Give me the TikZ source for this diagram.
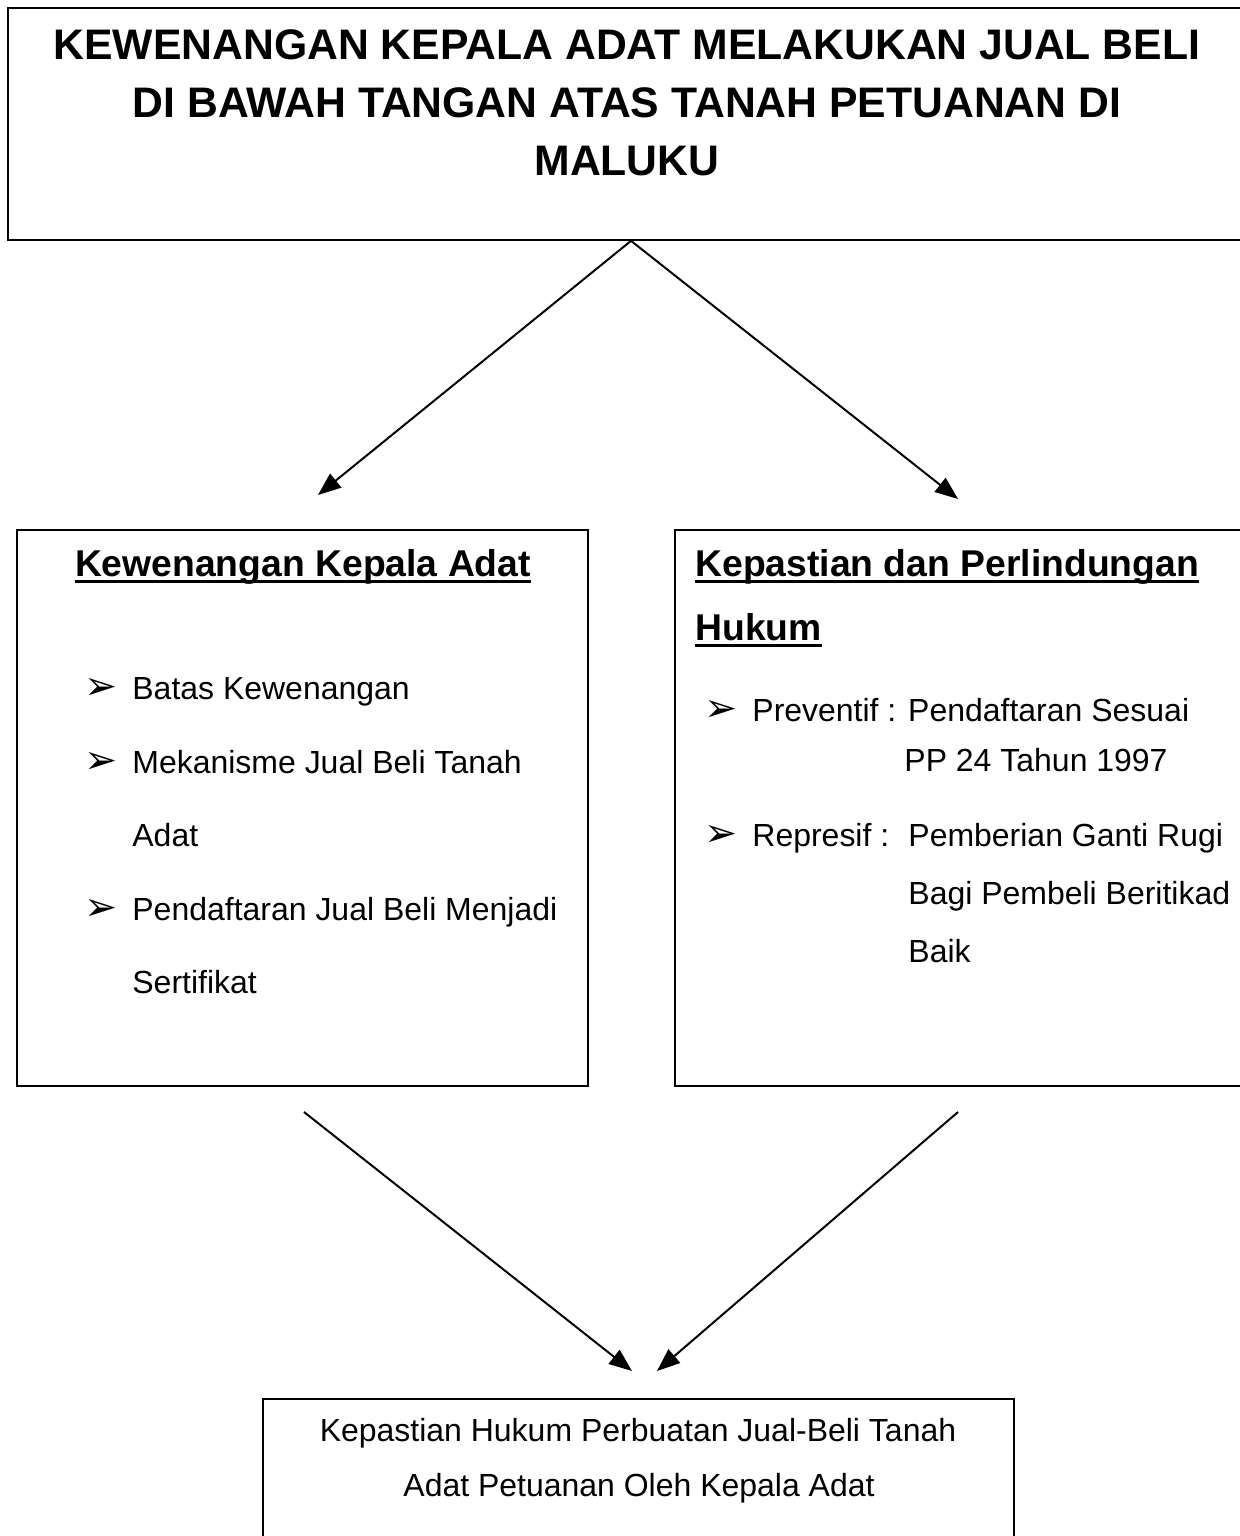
\documentclass[tikz,border=0pt]{standalone}
\usepackage{fontspec}
\setmainfont{Liberation Sans}
\newfontfamily\symfont{DejaVu Sans}
\usetikzlibrary{arrows.meta,fit}
\begin{document}
\begin{tikzpicture}[x=0.48pt,y=-0.48pt,
  frame/.style={draw=black,line width=0.8pt,inner sep=0pt,fill=none},
  titletxt/.style={anchor=base,inner sep=0pt,font=\fontsize{20.5pt}{24pt}\selectfont\bfseries},
  headtxt/.style={anchor=base west,inner sep=0pt,font=\fontsize{17.9pt}{21pt}\selectfont\bfseries},
  bodytxt/.style={anchor=base west,inner sep=0pt,font=\fontsize{15.35pt}{18pt}\selectfont},
  ctrtxt/.style={anchor=base,inner sep=0pt,font=\fontsize{15.35pt}{18pt}\selectfont},
  bul/.style={anchor=base west,inner sep=0pt,font=\fontsize{19pt}{20pt}\selectfont\symfont},
  conn/.style={line width=0.95pt,-{Triangle[length=11pt,width=8.5pt]}},
  uline/.style={line width=1.4pt}]
\useasboundingbox (0,0) rectangle (1240,1536);
\clip (0,0) rectangle (1240,1536);
\fill[white] (0,0) rectangle (1240,1536);

% boxes
\node[frame,fit={(8,8) (1254,240)}] (title) {};
\node[frame,fit={(17,530) (588,1086)}] (left) {};
\node[frame,fit={(675,530) (1262,1086)}] (right) {};
\node[frame,fit={(263,1399) (1014,1570)}] (bottom) {};

% title text
\node[titletxt] (t1) at (627,59) {KEWENANGAN KEPALA ADAT MELAKUKAN JUAL BELI};
\node[titletxt] (t2) at (627,117) {DI BAWAH TANGAN ATAS TANAH PETUANAN DI};
\node[titletxt] (t3) at (627,175) {MALUKU};

% left box
\node[headtxt,anchor=base] (lh) at (303,576) {Kewenangan Kepala Adat};
\draw[uline] ([yshift=-2.6pt]lh.base west) -- ([yshift=-2.6pt]lh.base east);
\node[bul] (lb1) at (84,699) {➢};
\node[bodytxt] (l1) at (132,699) {Batas Kewenangan};
\node[bul] (lb2) at (84,773) {➢};
\node[bodytxt] (l2) at (132,773) {Mekanisme Jual Beli Tanah};
\node[bodytxt] (l3) at (132,846) {Adat};
\node[bul] (lb3) at (84,920) {➢};
\node[bodytxt] (l4) at (132,920) {Pendaftaran Jual Beli Menjadi};
\node[bodytxt] (l5) at (132,993) {Sertifikat};

% right box
\node[headtxt] (rh1) at (695,576) {Kepastian dan Perlindungan};
\draw[uline] ([yshift=-2.6pt]rh1.base west) -- ([yshift=-2.6pt]rh1.base east);
\node[headtxt] (rh2) at (695,640) {Hukum};
\draw[uline] ([yshift=-2.6pt]rh2.base west) -- ([yshift=-2.6pt]rh2.base east);
\node[bul] (rb1) at (704,721) {➢};
\node[bodytxt] (r1) at (752,721) {Preventif : Pendaftaran Sesuai};
\node[bodytxt] (r2) at (904,771) {PP 24 Tahun 1997};
\node[bul] (rb2) at (704,846) {➢};
\node[bodytxt] (r3) at (752,846) {Represif :};
\node[bodytxt] (r4) at (908,846) {Pemberian Ganti Rugi};
\node[bodytxt] (r5) at (908,904) {Bagi Pembeli Beritikad};
\node[bodytxt] (r6) at (908,962) {Baik};

% bottom box
\node[ctrtxt] (b1) at (638,1441) {Kepastian Hukum Perbuatan Jual-Beli Tanah};
\node[ctrtxt] (b2) at (639,1496) {Adat Petuanan Oleh Kepala Adat};

% connectors
\coordinate (tipL) at (318,495);
\coordinate (tipR) at (958,499);
\coordinate (srcL) at (304,1112);
\coordinate (srcR) at (958,1112);
\coordinate (tipBL) at (632,1371);
\coordinate (tipBR) at (657,1371);
\draw[conn] (title.south) -- (tipL);
\draw[conn] (title.south) -- (tipR);
\draw[conn] (srcL) -- (tipBL);
\draw[conn] (srcR) -- (tipBR);
\end{tikzpicture}
\end{document}
